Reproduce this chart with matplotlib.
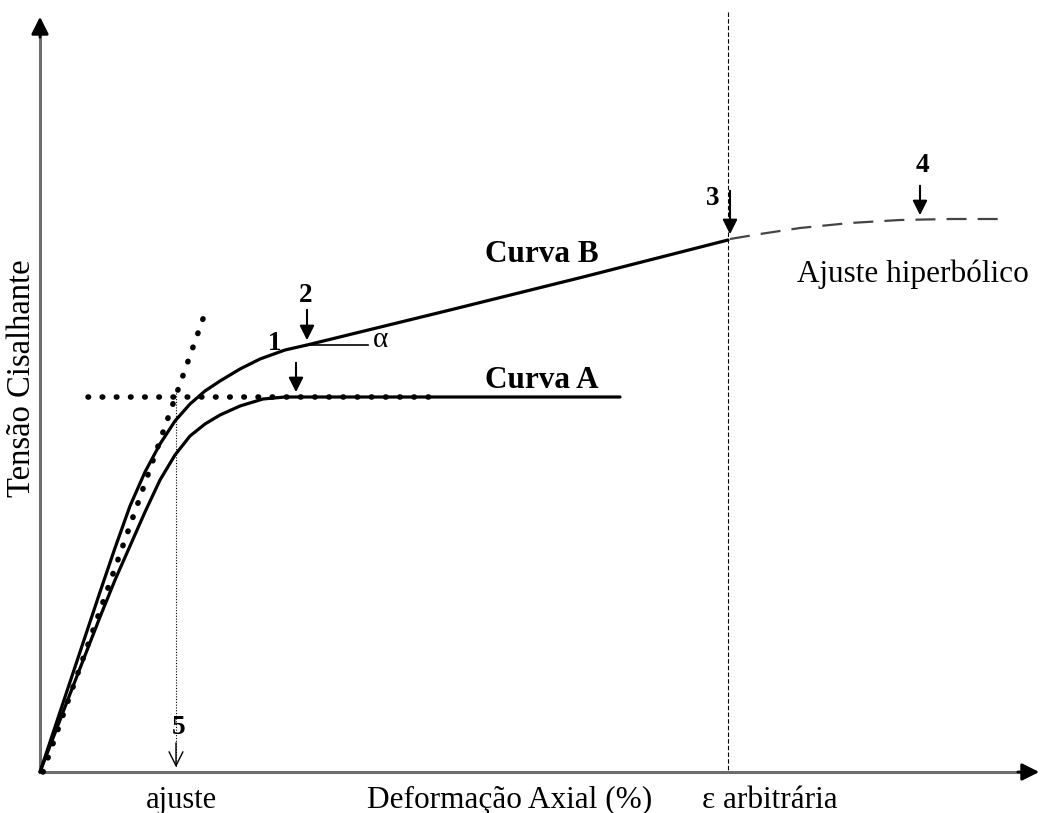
import matplotlib.pyplot as plt

# pontos (coordenadas da imagem, y para baixo)
curva_a_x = [40, 70, 100, 115, 130, 145, 160, 175, 190, 205, 220, 240, 263, 285, 620]
curva_a_y = [772, 694, 617, 580, 546, 512, 480, 455, 436, 424, 415, 406, 399, 397, 397]

curva_b_x = [40, 60, 80, 100, 115, 130, 145, 160, 175, 190, 205, 220, 240, 260, 285, 307,
             450, 583, 728]
curva_b_y = [772, 712, 652, 592, 548, 506, 472, 444, 421, 404, 391, 381, 369, 359, 350, 345,
             310, 277, 240]

hiperb_x = [730, 760, 800, 850, 900, 950, 1000]
hiperb_y = [239, 234, 228, 223, 220, 219, 219]

tang_x = [43, 204]
tang_y = [772, 316]
horiz_x = [88, 440]
horiz_y = [397, 397]

x_ajuste = 176
x_arbitraria = 728

plt.rcParams['font.family'] = ['Liberation Serif', 'DejaVu Serif']

fig = plt.figure(figsize=(10.45, 8.13), dpi=100)
ax = fig.add_axes([0, 0, 1, 1])
ax.set_xlim(0, 1045)
ax.set_ylim(813, 0)
ax.axis('off')

# eixos
ax.plot([40, 40], [772, 30], color='#6e6e6e', lw=2.2)
ax.plot([40, 1030], [772, 772], color='#6e6e6e', lw=2.2)
ax.annotate('', xy=(40, 14), xytext=(40, 40),
            arrowprops=dict(arrowstyle='-|>', color='black', lw=2, mutation_scale=26))
ax.annotate('', xy=(1042, 772), xytext=(1015, 772),
            arrowprops=dict(arrowstyle='-|>', color='black', lw=2, mutation_scale=26))

# curvas
ax.plot(curva_a_x, curva_a_y, color='black', lw=2.3, solid_capstyle='round',
        solid_joinstyle='round')
ax.plot(curva_b_x, curva_b_y, color='black', lw=2.3, solid_capstyle='round',
        solid_joinstyle='round')
ax.plot(hiperb_x, hiperb_y, color='#444444', lw=1.6, linestyle=(0, (9, 5)))

# tangentes pontilhadas
ax.plot(tang_x, tang_y, linestyle=(0, (0.1, 2.6)), color='black', lw=4, dash_capstyle='round')
ax.plot(horiz_x, horiz_y, linestyle=(0, (0.1, 2.45)), color='black', lw=4, dash_capstyle='round')

# verticais
ax.plot([x_ajuste, x_ajuste], [393, 768], color='black', lw=0.8, linestyle=(0, (1, 1.5)))
ax.annotate('', xy=(x_ajuste, 770), xytext=(x_ajuste, 740),
            arrowprops=dict(arrowstyle='->', color='black', lw=1, mutation_scale=25))
ax.plot([x_arbitraria, x_arbitraria], [12, 772], color='black', lw=0.8, linestyle=(0, (4, 2)))

# setas e rótulos numerados
seta = dict(arrowstyle='-|>', color='black', lw=1.5, mutation_scale=22)
ax.annotate('', xy=(296, 395), xytext=(296, 360), arrowprops=seta)
ax.annotate('', xy=(307, 343), xytext=(307, 307), arrowprops=seta)
ax.annotate('', xy=(730, 237), xytext=(730, 188), arrowprops=seta)
ax.annotate('', xy=(920, 218), xytext=(920, 183), arrowprops=seta)
ax.plot([307, 368], [345, 345], color='black', lw=1.2)

numeros = dict(fontsize=19.5, fontweight='bold', ha='center', va='center')
ax.text(275, 343, '1', **numeros)
ax.text(306, 295, '2', **numeros)
ax.text(713, 198, '3', **numeros)
ax.text(922, 165, '4', **numeros)
ax.text(179, 727, '5', **numeros)

ax.text(381, 340, 'α', fontsize=21, ha='center', va='center')
ax.text(542, 254, 'Curva B', fontsize=22.5, fontweight='bold', ha='center', va='center')
ax.text(542, 380, 'Curva A', fontsize=22.5, fontweight='bold', ha='center', va='center')
ax.text(913, 274, 'Ajuste hiperbólico', fontsize=22.5, ha='center', va='center')

ax.text(181, 800, 'ajuste', fontsize=22, ha='center', va='center')
ax.text(510, 800, 'Deformação Axial (%)', fontsize=22.5, ha='center', va='center')
ax.text(770, 800, 'ε arbitrária', fontsize=22.5, ha='center', va='center')
ax.text(22, 378, 'Tensão Cisalhante', fontsize=23.5, rotation=90, ha='center', va='center')

fig.savefig('out.png', dpi=100)
